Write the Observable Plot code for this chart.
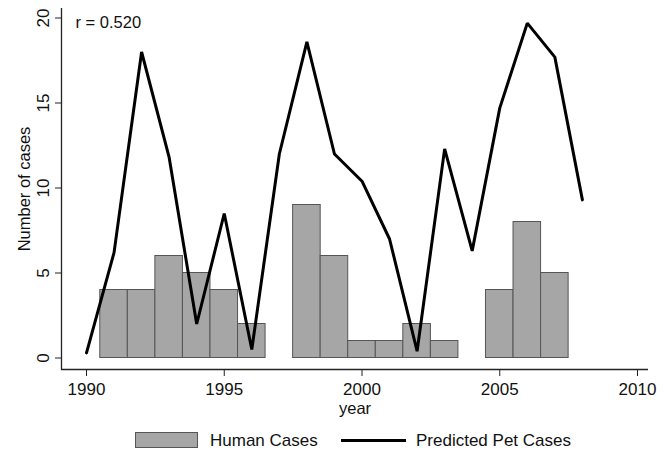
<!DOCTYPE html>
<html>
<head>
<meta charset="utf-8">
<script src="https://cdn.jsdelivr.net/npm/d3@7"></script>
<script src="https://cdn.jsdelivr.net/npm/@observablehq/plot@0.6"></script>
<style>
  html, body { margin: 0; padding: 0; background: #fff; }
  body { width: 668px; height: 451px; overflow: hidden; font-family: "Liberation Sans", Arial, sans-serif; }
  #legend { position: relative; width: 668px; height: 29px; font-size: 17px; color: #111; }
  #legend .sw { position: absolute; box-sizing: border-box; }
  #legend .lab { position: absolute; top: 18px; transform: translateY(-50%); line-height: 1; white-space: nowrap; }
</style>
</head>
<body>
<div id="chart"></div>
<div id="legend">
  <div class="sw" style="left:135px; top:10px; width:63px; height:16px; background:#a6a6a6; border:1px solid #555;"></div>
  <div class="lab" style="left:210px;">Human Cases</div>
  <div class="sw" style="left:341px; top:16.5px; width:65px; height:3px; background:#000;"></div>
  <div class="lab" style="left:416px;">Predicted Pet Cases</div>
</div>
<script>
// Human cases (bars)
const humanYears = [1991, 1992, 1993, 1994, 1995, 1996, 1998, 1999, 2000, 2001, 2002, 2003, 2005, 2006, 2007];
const humanCases = [4, 4, 6, 5, 4, 2, 9, 6, 1, 1, 2, 1, 4, 8, 5];

// Predicted pet cases (line)
const petYears = [1990, 1991, 1992, 1993, 1994, 1995, 1996, 1997, 1998, 1999, 2000, 2001, 2002, 2003, 2004, 2005, 2006, 2007, 2008];
const petCases = [0.3, 6.2, 18.0, 11.8, 2.0, 8.5, 0.5, 12.0, 18.6, 12.0, 10.4, 7.0, 0.4, 12.3, 6.3, 14.7, 19.7, 17.7, 9.3];

const xTicks = [1990, 1995, 2000, 2005, 2010];
const yTicks = [0, 5, 10, 15, 20];
const corrLabel = "r = 0.520";

const human = humanYears.map((y, i) => ({year: y, cases: humanCases[i]}));
const pet = petYears.map((y, i) => ({year: y, cases: petCases[i]}));

const font = "Liberation Sans, Arial, sans-serif";

const chart = Plot.plot({
  width: 668,
  height: 422,
  marginLeft: 86,
  marginRight: 31,
  marginTop: 17.5,
  marginBottom: 64.5,
  style: {fontFamily: font, fontSize: "17px", color: "#111", background: "#fff"},
  x: {domain: [1990, 2010]},
  y: {domain: [0, 20]},
  marks: [
    Plot.rectY(human, {x1: d => d.year - 0.5, x2: d => d.year + 0.5, y: "cases", fill: "#a6a6a6", stroke: "#555", strokeWidth: 1}),
    Plot.line(pet, {x: "year", y: "cases", stroke: "#000", strokeWidth: 3, strokeLinejoin: "miter"}),
    // x axis line (offset below the plot region)
    Plot.ruleY([0], {x1: 1989.09, x2: 2010.4, dy: 11.5, stroke: "#222", strokeWidth: 1.3}),
    Plot.axisX({ticks: xTicks, tickSize: 7, tickPadding: 6, dy: 11.5, tickFormat: d => String(d), fontSize: 17, stroke: "#222", label: null}),
    // y axis line (offset left)
    Plot.ruleX([1990], {y1: -0.68, y2: 20.56, dx: -25, stroke: "#222", strokeWidth: 1.3}),
    Plot.axisY({ticks: yTicks, tickSize: 6, dx: -25, tickFormat: () => "", stroke: "#222", label: null}),
    Plot.text(yTicks, {y: d => d, text: d => String(d), frameAnchor: "left", dx: -43, rotate: -90, textAnchor: "middle", lineAnchor: "middle", fontSize: 17, fill: "#111"}),
    Plot.text(["Number of cases"], {frameAnchor: "left", dx: -62, dy: 1, rotate: -90, textAnchor: "middle", lineAnchor: "middle", fontSize: 16.5, fill: "#111"}),
    Plot.text(["year"], {frameAnchor: "bottom", dx: -7, dy: 50.5, textAnchor: "middle", lineAnchor: "middle", fontSize: 16.5, fill: "#111"}),
    Plot.text([corrLabel], {frameAnchor: "top-left", dx: -11, dy: 5, textAnchor: "start", lineAnchor: "middle", fontSize: 16.5, fill: "#111"})
  ]
});
document.getElementById("chart").appendChild(chart);
</script>
</body>
</html>
